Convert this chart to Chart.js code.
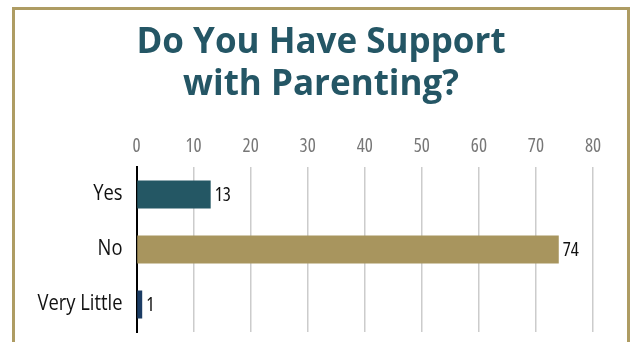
<!DOCTYPE html>
<html>
<head>
<meta charset="utf-8">
<script src="https://cdn.jsdelivr.net/npm/chart.js@4.4.1/dist/chart.umd.min.js"></script>
<style>
  html, body { margin: 0; padding: 0; background: #fff; }
  body { width: 631px; height: 342px; position: relative; overflow: hidden; }
  .frame {
    position: absolute; left: 12px; top: 7px; width: 612px; height: 400px;
    border: 3px solid #ae9c63; background: #fff;
  }
  #myChart { position: absolute; left: 0; top: 0; }
</style>
</head>
<body>
<div class="frame"></div>
<canvas id="myChart" width="631" height="342"></canvas>
<script>
const categories = ['Yes', 'No', 'Very Little'];
const responses = [13, 74, 1];
const barColors = ['#245764', '#a8955e', '#1b3c64'];
const tickValues = [0, 10, 20, 30, 40, 50, 60, 70, 80];

const labelFont = { family: "'Open Sans', 'Liberation Sans Narrow', sans-serif", size: 19, weight: '400 condensed' };
const categoryFont = { family: "'Open Sans', sans-serif", size: 21, weight: '400' };

// writes each value just past the end of its bar
const valueLabels = {
    id: 'valueLabels',
    afterDatasetsDraw(chart) {
        const ctx = chart.ctx;
        const meta = chart.getDatasetMeta(0);
        ctx.save();
        ctx.font = Chart.helpers.toFont(labelFont).string;
        ctx.fillStyle = '#111';
        ctx.textAlign = 'left';
        ctx.textBaseline = 'middle';
        meta.data.forEach((bar, i) => {
            ctx.fillText(responses[i], bar.x + 4, bar.y + 1);
        });
        ctx.restore();
    }
};

// category names on the y axis, squeezed a little horizontally
const categoryLabels = {
    id: 'categoryLabels',
    afterDraw(chart) {
        const ctx = chart.ctx;
        const yScale = chart.scales.y;
        ctx.save();
        ctx.font = Chart.helpers.toFont(categoryFont).string;
        ctx.fillStyle = '#111';
        ctx.textAlign = 'right';
        ctx.textBaseline = 'middle';
        categories.forEach((name, i) => {
            ctx.save();
            ctx.translate(yScale.right - 14, yScale.getPixelForTick(i));
            ctx.scale(0.875, 1);
            ctx.fillText(name, 0, 0);
            ctx.restore();
        });
        ctx.restore();
    }
};

const renderChart = () => {
    const ctx = document.getElementById('myChart').getContext('2d');
    new Chart(ctx, {
        type: 'bar',
        data: {
            labels: categories,
            datasets: [{
                label: 'Responses',
                data: responses,
                backgroundColor: barColors,
                borderWidth: 0,
                categoryPercentage: 1,
                barPercentage: 0.51
            }]
        },
        options: {
            indexAxis: 'y',
            responsive: false,
            animation: false,
            layout: { padding: { left: 49, right: 38, top: 0, bottom: 10 } },
            plugins: {
                legend: { display: false },
                tooltip: { enabled: false },
                title: {
                    display: true,
                    text: ['Do You Have Support', 'with Parenting?'],
                    color: '#245665',
                    font: { family: "'Open Sans', sans-serif", size: 35, weight: 'bold', lineHeight: 1.2 },
                    padding: { top: 22, bottom: 29 }
                }
            },
            scales: {
                x: {
                    position: 'top',
                    min: 0,
                    max: 80,
                    afterBuildTicks: (scale) => {
                        scale.ticks = tickValues.map(v => ({ value: v }));
                    },
                    afterFit: (scale) => { scale.height = 32; },
                    grid: { color: '#cccccc', lineWidth: 1.5, drawTicks: false },
                    border: { display: false },
                    ticks: { color: '#777', font: labelFont, padding: 9 }
                },
                y: {
                    afterFit: (scale) => {
                        scale.width = 87.5;
                        scale.paddingTop = 0;
                        scale.paddingBottom = 0;
                    },
                    grid: { display: false, drawTicks: false },
                    border: { display: true, color: '#000', width: 2 },
                    ticks: { display: false }
                }
            }
        },
        plugins: [valueLabels, categoryLabels]
    });
};

renderChart();
</script>
</body>
</html>
